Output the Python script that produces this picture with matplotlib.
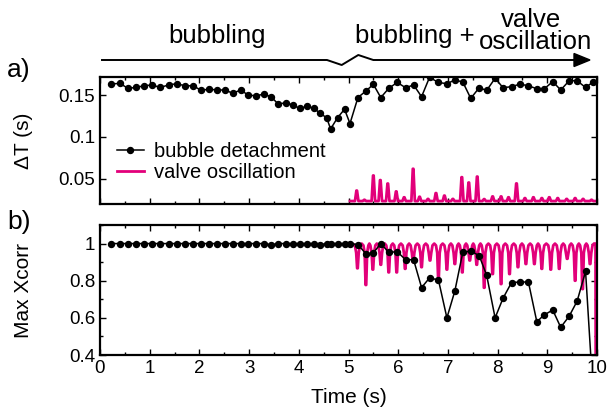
import matplotlib
matplotlib.use("Agg")
import matplotlib.pyplot as plt
from matplotlib.lines import Line2D
from matplotlib.ticker import MultipleLocator
import numpy as np

plt.rcParams['font.family'] = ['Liberation Sans', 'DejaVu Sans']

# ---------------- data ----------------
bubble_t = [0.215, 0.40, 0.56, 0.72, 0.88, 1.05, 1.21, 1.38, 1.54, 1.71,
            1.88, 2.03, 2.20, 2.35, 2.52, 2.67, 2.83, 2.98, 3.14, 3.29,
            3.44, 3.59, 3.74, 3.88, 4.02, 4.17, 4.31, 4.43, 4.56, 4.64,
            4.78, 4.92, 5.03, 5.19, 5.35, 5.50, 5.65, 5.81, 5.98, 6.15,
            6.31, 6.47, 6.63, 6.81, 6.98, 7.14, 7.30, 7.46, 7.63, 7.78,
            7.95, 8.11, 8.28, 8.45, 8.62, 8.79, 8.93, 9.11, 9.27, 9.44,
            9.60, 9.77, 9.92]
bubble_dT = [0.163, 0.164, 0.158, 0.159, 0.161, 0.162, 0.159, 0.162, 0.1635, 0.161,
             0.161, 0.1556, 0.157, 0.156, 0.156, 0.152, 0.156, 0.150, 0.149, 0.151,
             0.148, 0.139, 0.141, 0.138, 0.134, 0.1365, 0.134, 0.128, 0.123, 0.1095,
             0.123, 0.133, 0.116, 0.147, 0.1548, 0.1627, 0.147, 0.158, 0.165, 0.1587,
             0.162, 0.148, 0.171, 0.165, 0.1635, 0.168, 0.1655, 0.146, 0.1587, 0.1555,
             0.170, 0.1587, 0.160, 0.163, 0.161, 0.1575, 0.157, 0.166, 0.156, 0.167,
             0.167, 0.159, 0.1655]
bubble_xcorr = [1.0, 1.0, 1.0, 1.0, 1.0, 1.0, 1.0, 1.0, 1.0, 1.0,
                1.0, 1.0, 1.0, 1.0, 1.0, 1.0, 1.0, 1.0, 1.0, 1.0,
                0.994, 1.0, 1.0, 1.0, 1.0, 1.0, 1.0, 0.994, 1.0, 1.0,
                1.0, 1.0, 1.0, 0.995, 0.945, 0.95, 1.0, 0.953, 0.956, 0.913,
                0.913, 0.763, 0.815, 0.804, 0.60, 0.745, 0.953, 0.96, 0.935, 0.829,
                0.60, 0.706, 0.79, 0.793, 0.793, 0.578, 0.615, 0.642, 0.549, 0.609,
                0.69, 0.85, 0.20]

# valve oscillation, top panel: baseline and peaks
valve_start, valve_end = 5.03, 10.0
valve_base = 0.0235
valve_peak_t = [5.165, 5.32, 5.50, 5.64, 5.79, 5.96, 6.12, 6.30, 6.43, 6.60,
                6.76, 6.93, 7.10, 7.28, 7.42, 7.59, 7.73, 7.90, 8.07, 8.22,
                8.38, 8.55, 8.72, 8.89, 9.04, 9.21, 9.39, 9.56, 9.72, 9.89]
valve_peak_dT = [0.036, 0.025, 0.054, 0.0485, 0.0444, 0.035, 0.028, 0.062, 0.0286, 0.026,
                 0.033, 0.030, 0.026, 0.052, 0.0456, 0.0527, 0.0258, 0.029, 0.029, 0.028,
                 0.0445, 0.027, 0.028, 0.027, 0.028, 0.027, 0.026, 0.027, 0.026, 0.025]

# valve oscillation, bottom panel: dips of Xcorr
valve_x_start = 5.07
valve_dip_t = [5.18, 5.35, 5.49, 5.65, 5.81, 5.97, 6.14, 6.30, 6.47, 6.64,
               6.81, 6.98, 7.14, 7.29, 7.44, 7.58, 7.73, 7.90, 8.07, 8.24,
               8.41, 8.57, 8.74, 8.89, 9.07, 9.24, 9.40, 9.56, 9.71, 9.86]
valve_dip_x = [0.867, 0.777, 0.86, 0.886, 0.845, 0.845, 0.864, 0.90, 0.873, 0.909,
               0.81, 0.86, 0.89, 0.845, 0.909, 0.886, 0.762, 0.836, 0.782, 0.836,
               0.873, 0.89, 0.89, 0.864, 0.86, 0.864, 0.918, 0.80, 0.755, 0.89]
valve_x_drop_t, valve_x_drop = 9.97, 0.2

PINK = '#e2007a'

# ---- build pink polylines from the read extremes ----
tp, vp = [valve_start], [valve_base]
hw = 0.035
for t, v in zip(valve_peak_t, valve_peak_dT):
    tp += [t - hw, t - 0.006, t + 0.006, t + hw]
    vp += [valve_base, v, v, valve_base]
tp.append(valve_end); vp.append(valve_base)

tb, vb = [valve_x_start], [1.0]
for i, (t, v) in enumerate(zip(valve_dip_t, valve_dip_x)):
    tb += [t - 0.05, t - 0.025, t - 0.006, t + 0.006, t + 0.025, t + 0.05]
    vb += [0.99, 0.95, v, v, 0.95, 0.99]
    if i + 1 < len(valve_dip_t):
        tb.append(0.5 * (t + valve_dip_t[i + 1])); vb.append(1.0)
tb += [valve_x_drop_t - 0.03, valve_x_drop_t, valve_x_drop_t + 0.005]
vb += [1.0, 1.0, valve_x_drop]

# ---------------- figure ----------------
fig = plt.figure(figsize=(6.07, 4.12), dpi=100)
L, R = 100 / 607, 597 / 607
ax1 = fig.add_axes([L, 1 - 204 / 412, R - L, (204 - 77) / 412])
ax2 = fig.add_axes([L, 1 - 355 / 412, R - L, (355 - 225) / 412])

for ax in (ax1, ax2):
    for s in ax.spines.values():
        s.set_linewidth(1.6)
    ax.tick_params(direction='in', which='both', top=True, right=True,
                   labelsize=13.5, width=1.0)
    ax.tick_params(which='major', length=4)
    ax.tick_params(which='minor', length=2.5)
    ax.set_xlim(0, 10)
    ax.xaxis.set_major_locator(MultipleLocator(1))
    ax.xaxis.set_minor_locator(MultipleLocator(0.5))

# top panel
ax1.plot(tp, vp, color=PINK, lw=2.0, label='valve oscillation', zorder=2)
ax1.plot(bubble_t, bubble_dT, color='black', lw=1.1, marker='o', ms=4.3,
         label='bubble detachment', zorder=3)
ax1.set_ylim(0.02, 0.1715)
ax1.set_yticks([0.05, 0.1, 0.15])
ax1.set_yticklabels(['0.05', '0.1', '0.15'])
ax1.tick_params(labelbottom=False)
ax1.set_ylabel('ΔT (s)', fontsize=15)
ax1.yaxis.set_label_coords(-0.135, 0.5)
h, l = ax1.get_legend_handles_labels()
ax1.legend(h[::-1], l[::-1], loc='upper left', bbox_to_anchor=(0.035, 0.49),
           frameon=False, fontsize=14.5, handlelength=1.3, handletextpad=0.5,
           labelspacing=0.1, borderpad=0, borderaxespad=0)

# bottom panel
ax2.plot(tb, vb, color=PINK, lw=2.0, zorder=2)
ax2.plot(bubble_t, bubble_xcorr, color='black', lw=1.1, marker='o', ms=4.3,
         zorder=3)
ax2.set_ylim(0.4, 1.1)
ax2.set_yticks([0.4, 0.6, 0.8, 1.0])
ax2.set_yticklabels(['0.4', '0.6', '0.8', '1'])
ax2.yaxis.set_minor_locator(MultipleLocator(0.1))
ax2.set_ylabel('Max Xcorr', fontsize=15)
ax2.yaxis.set_label_coords(-0.135, 0.5)
ax2.set_xlabel('Time (s)', fontsize=15)
ax2.xaxis.set_label_coords(0.5, -0.255)

# panel labels
fig.text(7 / 607, 1 - 70 / 412, 'a)', fontsize=19, ha='left', va='center')
fig.text(7 / 607, 1 - 222 / 412, 'b)', fontsize=19, ha='left', va='center')

# regime arrow above the top panel (figure pixel coordinates)
def fx(px):
    return px / 607
def fy(py):
    return 1 - py / 412

arrow_x = [102, 327, 341.7, 358.3, 373.3, 578]
arrow_y = [60, 60, 65, 55, 60, 60]
fig.add_artist(Line2D([fx(x) for x in arrow_x], [fy(y) for y in arrow_y],
                      color='black', lw=1.4, transform=fig.transFigure))
fig.add_artist(matplotlib.patches.FancyArrow(fx(575), fy(60), fx(15), 0,
               width=0, head_width=13 / 412, head_length=fx(16),
               length_includes_head=True, color='black',
               transform=fig.transFigure))

fig.text(fx(217), fy(36), 'bubbling', fontsize=18.5, ha='center', va='center')
fig.text(fx(415), fy(36), 'bubbling +', fontsize=18.5, ha='center', va='center')
fig.text(fx(531), fy(20), 'valve', fontsize=18.5, ha='center', va='center')
fig.text(fx(535), fy(42), 'oscillation', fontsize=18.5, ha='center', va='center')

fig.savefig('out.png', dpi=100)
